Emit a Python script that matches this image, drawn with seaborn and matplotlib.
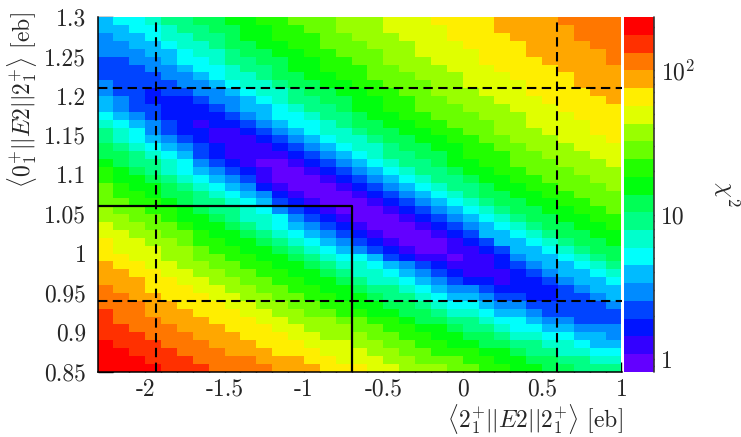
import colorsys

import numpy as np
import pandas as pd
import matplotlib
matplotlib.use("Agg")
import matplotlib.pyplot as plt
from matplotlib.colors import ListedColormap, LogNorm
from matplotlib.ticker import FixedLocator, NullFormatter
import seaborn as sns

# ---- scan grid (bin edges, eb) ------------------------------------------
m22_range = [-2.3, 1.0]      # <2+||E2||2+>
m22_step = 0.1
m02_range = [0.85, 1.30]     # <0+||E2||2+>
m02_step = 0.01

# ---- fit summary -----------------------------------------------------------
chi2_min = 0.819
m22_limits = [-1.93, 0.595]          # 1 sigma interval of <2+||E2||2+>
m02_limits = [0.94, 1.21]            # 1 sigma interval of <0+||E2||2+>
reference_point = [-0.70, 1.06]      # (<2+||E2||2+>, <0+||E2||2+>)
# correlation valley: 1/<0+||E2||2+> = a + b * <2+||E2||2+>
valley_coeffs = [1.0046, 0.0866]
# width of the valley in 1/<0+||E2||2+>: constant above, linear in x below
width_above = 0.0288
width_below = [0.0320, 0.00366]

x_major = [-2, -1.5, -1, -0.5, 0, 0.5, 1]
y_major = [0.85, 0.9, 0.95, 1, 1.05, 1.1, 1.15, 1.2, 1.25, 1.3]
z_major = [1, 10, 100]
z_labels = ["1", "10", r"$10^{2}$"]

# ---- chi2 map --------------------------------------------------------------
x_edges = np.round(np.arange(m22_range[0], m22_range[1] + m22_step / 2, m22_step), 4)
y_edges = np.round(np.arange(m02_range[0], m02_range[1] + m02_step / 2, m02_step), 4)
x_c = 0.5 * (x_edges[:-1] + x_edges[1:])
y_c = 0.5 * (y_edges[:-1] + y_edges[1:])
X, Y = np.meshgrid(x_c, y_c)

x0 = np.mean(m22_limits)
sx = 0.5 * (m22_limits[1] - m22_limits[0])
a, b = valley_coeffs
dw = 1.0 / Y - (a + b * X)
sig = np.where(dw > 0, width_below[0] + width_below[1] * X, width_above)
chi2 = chi2_min + ((X - x0) / sx) ** 2 + (dw / sig) ** 2

df = pd.DataFrame(chi2[::-1], index=np.round(y_c[::-1], 4), columns=np.round(x_c, 3))

# ---- 20-level palette, violet -> red --------------------------------------
n_levels, n_pal = 20, 50
cols = []
for k in range(n_levels):
    i = int((k + 0.99) * n_pal / n_levels)
    hue = max(280.0 - (i + 1) * 280.0 / n_pal, 0.0)
    cols.append(colorsys.hls_to_rgb(hue / 360.0, 0.5, 1.0))
cmap = ListedColormap(cols)

# ---- figure ----------------------------------------------------------------
sns.set_style("ticks")
plt.rcParams["font.family"] = "cmr10"
plt.rcParams["mathtext.fontset"] = "cm"
plt.rcParams["axes.unicode_minus"] = False
FS = 17

W, H = 741, 437
fig = plt.figure(figsize=(W / 100, H / 100), dpi=100)
ax = fig.add_axes([97.5 / W, 1 - 371.7 / H, 524 / W, 354.4 / H])
cax = fig.add_axes([624 / W, 1 - 371.7 / H, 30 / W, 354.4 / H])

norm = LogNorm(vmin=chi2.min(), vmax=chi2.max())
sns.heatmap(df, ax=ax, cmap=cmap, norm=norm, cbar_ax=cax,
            xticklabels=False, yticklabels=False, rasterized=True)


def col_of(v):
    return (v - x_edges[0]) / m22_step


def row_of(v):
    return (y_edges[-1] - v) / m02_step


# axes frame: only left/bottom lines, inward ticks
for side, sp in ax.spines.items():
    sp.set_visible(side in ("left", "bottom"))
    sp.set_color("black")
    sp.set_linewidth(1.1)

ax.set_xticks([col_of(v) for v in x_major])
ax.set_xticklabels([f"{v:g}" for v in x_major], fontsize=FS)
ax.set_xticks([col_of(v) for v in np.arange(-2.2, 1.001, 0.1)], minor=True)
ax.set_yticks([row_of(v) for v in y_major])
ax.set_yticklabels([f"{v:g}" for v in y_major], fontsize=FS)
ax.set_yticks([row_of(v) for v in np.arange(0.85, 1.3001, 0.01)], minor=True)
ax.tick_params(axis="both", which="both", direction="in", color="black", width=1.0,
               top=False, right=False)
ax.tick_params(axis="x", which="major", length=7.5, pad=5)
ax.tick_params(axis="x", which="minor", length=3.8)
ax.tick_params(axis="y", which="major", length=11, pad=8)
ax.tick_params(axis="y", which="minor", length=5.2)
ax.set_xlabel("")
ax.set_ylabel("")

# 1 sigma limits
dash = (0, (4.5, 2.6))
for v in m22_limits:
    ax.axvline(col_of(v), color="black", lw=1.5, ls=dash)
for v in m02_limits:
    ax.axhline(row_of(v), color="black", lw=1.5, ls=dash)

# reference value
rx, ry = reference_point
ax.plot([0, col_of(rx), col_of(rx)], [row_of(ry), row_of(ry), row_of(m02_range[0])],
        color="black", lw=1.6, solid_capstyle="butt")

# colour bar axis
cax.set_yticks(z_major)
cax.set_yticklabels(z_labels, fontsize=FS)
minor_z = [m * 10 ** e for e in range(0, 3) for m in range(2, 10)]
minor_z = [v for v in minor_z if norm.vmin <= v <= norm.vmax] + [0.9]
cax.yaxis.set_minor_locator(FixedLocator(minor_z))
cax.yaxis.set_minor_formatter(NullFormatter())
cax.tick_params(axis="y", which="both", direction="in", right=True, left=False,
                color="black", width=1.0, labelright=True, labelleft=False)
cax.tick_params(axis="y", which="major", length=11.5, pad=5)
cax.tick_params(axis="y", which="minor", length=5.6)
cax.plot([1, 1], [0, 1], transform=cax.transAxes, color="#333333", lw=1.2, clip_on=False)

# titles
fig.text(623 / W, 1 - 419 / H, r"$\langle 2^{+}_{1}||E2||2^{+}_{1}\rangle$ [eb]",
         ha="right", va="center", fontsize=FS)
fig.text(22 / W, 1 - 12 / H, r"$\langle 0^{+}_{1}||E2||2^{+}_{1}\rangle$ [eb]",
         ha="center", va="top", rotation=90, fontsize=FS)
fig.text(726 / W, 1 - 194 / H, r"$\chi^{2}$", ha="center", va="center",
         rotation=-90, fontsize=FS)

fig.savefig("out.png", dpi=100)
